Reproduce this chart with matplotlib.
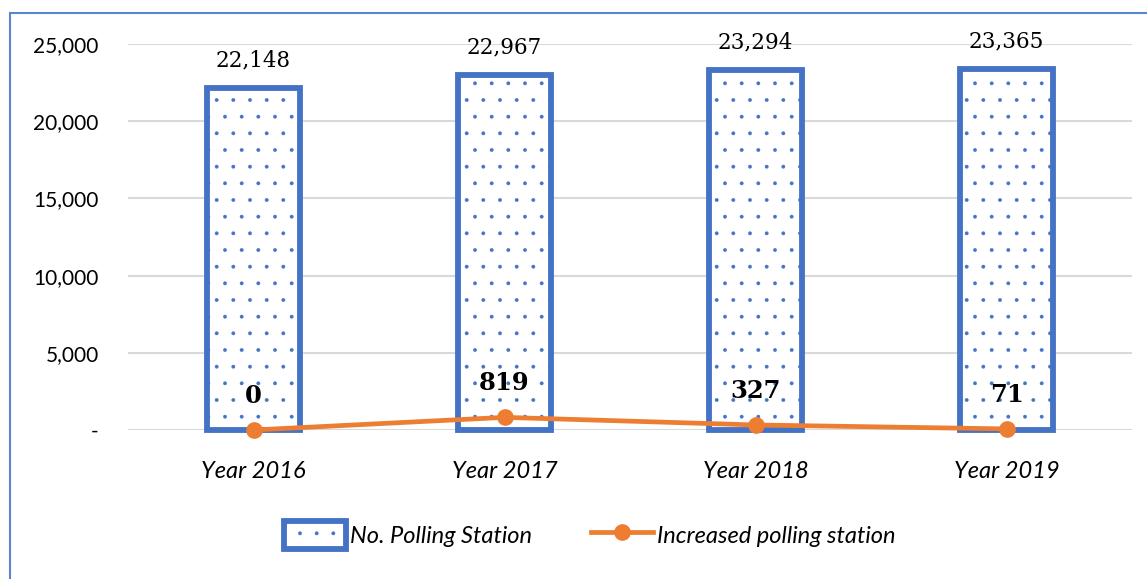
import matplotlib.pyplot as plt
from matplotlib.patches import Rectangle, Patch
from matplotlib.lines import Line2D

years = ['Year 2016', 'Year 2017', 'Year 2018', 'Year 2019']
stations = [22148, 22967, 23294, 23365]
increased = [0, 819, 327, 71]
yticks = [0, 5000, 10000, 15000, 20000, 25000]

blue = '#4472C4'
orange = '#ED7D31'
plt.rcParams['hatch.color'] = blue
plt.rcParams['hatch.linewidth'] = 0.3

fig = plt.figure(figsize=(11.47, 5.79), dpi=100)
ax = fig.add_axes([128 / 1147, 1 - 430 / 579, 1004 / 1147, 386 / 579])

x = range(len(years))
ax.bar(x, stations, width=0.37, facecolor='white', edgecolor=blue,
       linewidth=4.2, hatch='.', zorder=3, clip_on=False)
ax.plot(x, increased, '-o', color=orange, lw=3.4, ms=11, zorder=4, clip_on=False)

for i, v in enumerate(stations):
    ax.annotate(f'{v:,}', (i, v), xytext=(0, 12), textcoords='offset points',
                ha='center', va='bottom', fontsize=15.5, family='DejaVu Serif')
for i, v in enumerate(increased):
    ax.annotate(f'{v:,}', (i, v), xytext=(0, 16), textcoords='offset points',
                ha='center', va='bottom', fontsize=17.5, fontweight='bold',
                family='DejaVu Serif')

ax.set_xlim(-0.5, 3.5)
ax.set_ylim(0, 25000)
ax.set_yticks(yticks)
ax.set_yticklabels(['-' if t == 0 else f'{t:,}' for t in yticks], fontsize=15,
                   family='Lato', color='black')
ax.set_xticks(list(x))
ax.set_xticklabels(years, fontsize=17, style='italic', family='Lato', color='black')
ax.tick_params(axis='x', length=0, pad=22)
ax.tick_params(axis='y', length=0, pad=21)
ax.grid(axis='y', color='#D9D9D9', lw=1.5, zorder=0)
for s in ax.spines.values():
    s.set_visible(False)

handles = [Patch(facecolor='white', edgecolor=blue, linewidth=4.2, hatch='.'),
           Line2D([], [], color=orange, lw=3.4, marker='o', ms=11)]
fig.legend(handles, ['No. Polling Station', 'Increased polling station'],
           loc='center', bbox_to_anchor=(590 / 1147, 1 - 535 / 579), ncol=2,
           frameon=False, prop={'family': 'Lato', 'style': 'italic', 'size': 17},
           handlelength=2.6, handleheight=1.4, handletextpad=0.2, columnspacing=2.5)

fig.add_artist(Rectangle((10 / 1147, -0.1), 1.2, 1 - 13 / 579 + 0.1,
                         transform=fig.transFigure, fill=False,
                         edgecolor='#5B84D4', lw=1.5))

fig.savefig('out.png', dpi=100)
